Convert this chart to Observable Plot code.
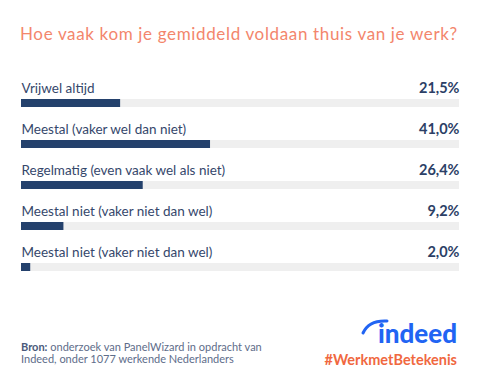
<!DOCTYPE html>
<html><head><meta charset="utf-8">
<script src="https://cdn.jsdelivr.net/npm/d3@7"></script>
<script src="https://cdn.jsdelivr.net/npm/@observablehq/plot@0.6"></script>
<style>
html,body{margin:0;padding:0;background:#fff;}
body{width:489px;height:383px;position:relative;overflow:hidden;font-family:Lato,sans-serif;}
#title{position:absolute;left:20px;top:25px;font-size:17px;letter-spacing:0.65px;line-height:18px;color:#f3866c;white-space:nowrap;}
#chart{position:absolute;left:0;top:60px;}
#source{position:absolute;left:21px;top:341px;font-size:11px;line-height:12.3px;color:#5e6d8a;white-space:nowrap;}
#source b{color:#4a5a7a;}
#brand{position:absolute;left:300px;top:312px;}
</style></head>
<body>
<div id="title">Hoe vaak kom je gemiddeld voldaan thuis van je werk?</div>
<div id="chart"></div>
<div id="source"><b>Bron:</b> onderzoek van PanelWizard in opdracht van<br>Indeed, onder 1077 werkende Nederlanders</div>
<svg id="brand" width="170" height="60" viewBox="0 0 170 60">
  <path d="M63 21 Q69 8 87 9" fill="none" stroke="#2164f3" stroke-width="3" stroke-linecap="round"/>
  <text x="157" y="31" text-anchor="end" font-family="Lato" font-weight="900" font-size="26" fill="#2164f3">indeed</text>
  <text x="157" y="53" text-anchor="end" font-family="Lato" font-weight="700" font-size="14.5" fill="#f0683f">#WerkmetBetekenis</text>
</svg>
<script>
const categories = [
  "Vrijwel altijd",
  "Meestal (vaker wel dan niet)",
  "Regelmatig (even vaak wel als niet)",
  "Meestal niet (vaker niet dan wel)",
  "Meestal niet (vaker niet dan wel)"
];
const values = [21.5, 41.0, 26.4, 9.2, 2.0];
const valueLabels = ["21,5%", "41,0%", "26,4%", "9,2%", "2,0%"];
const scaleMax = 95;

const rows = categories.map((c, i) => ({i, label: c, value: values[i], text: valueLabels[i]}));

const chart = Plot.plot({
  width: 489,
  height: 225,
  margin: 0,
  style: {fontFamily: "Lato, sans-serif", background: "transparent"},
  x: {domain: [0, scaleMax], range: [21, 459], axis: null},
  y: {type: "band", domain: d3.range(categories.length), range: [10, 218], padding: 0, axis: null},
  marks: [
    Plot.barX(rows, {x1: 0, x2: scaleMax, y: "i", fill: "#efefef", insetTop: 27, insetBottom: 6}),
    Plot.barX(rows, {x1: 0, x2: "value", y: "i", fill: "#24416c", insetTop: 27, insetBottom: 6}),
    Plot.text(rows, {x: 0, y: "i", text: "label", textAnchor: "start", lineAnchor: "bottom", fontSize: 13.5, fill: "#35476b"}),
    Plot.text(rows, {x: scaleMax, y: "i", text: "text", textAnchor: "end", lineAnchor: "bottom", fontSize: 14.5, fontWeight: "bold", fill: "#2c3f66"})
  ]
});
document.getElementById("chart").appendChild(chart);
</script>
</body></html>
